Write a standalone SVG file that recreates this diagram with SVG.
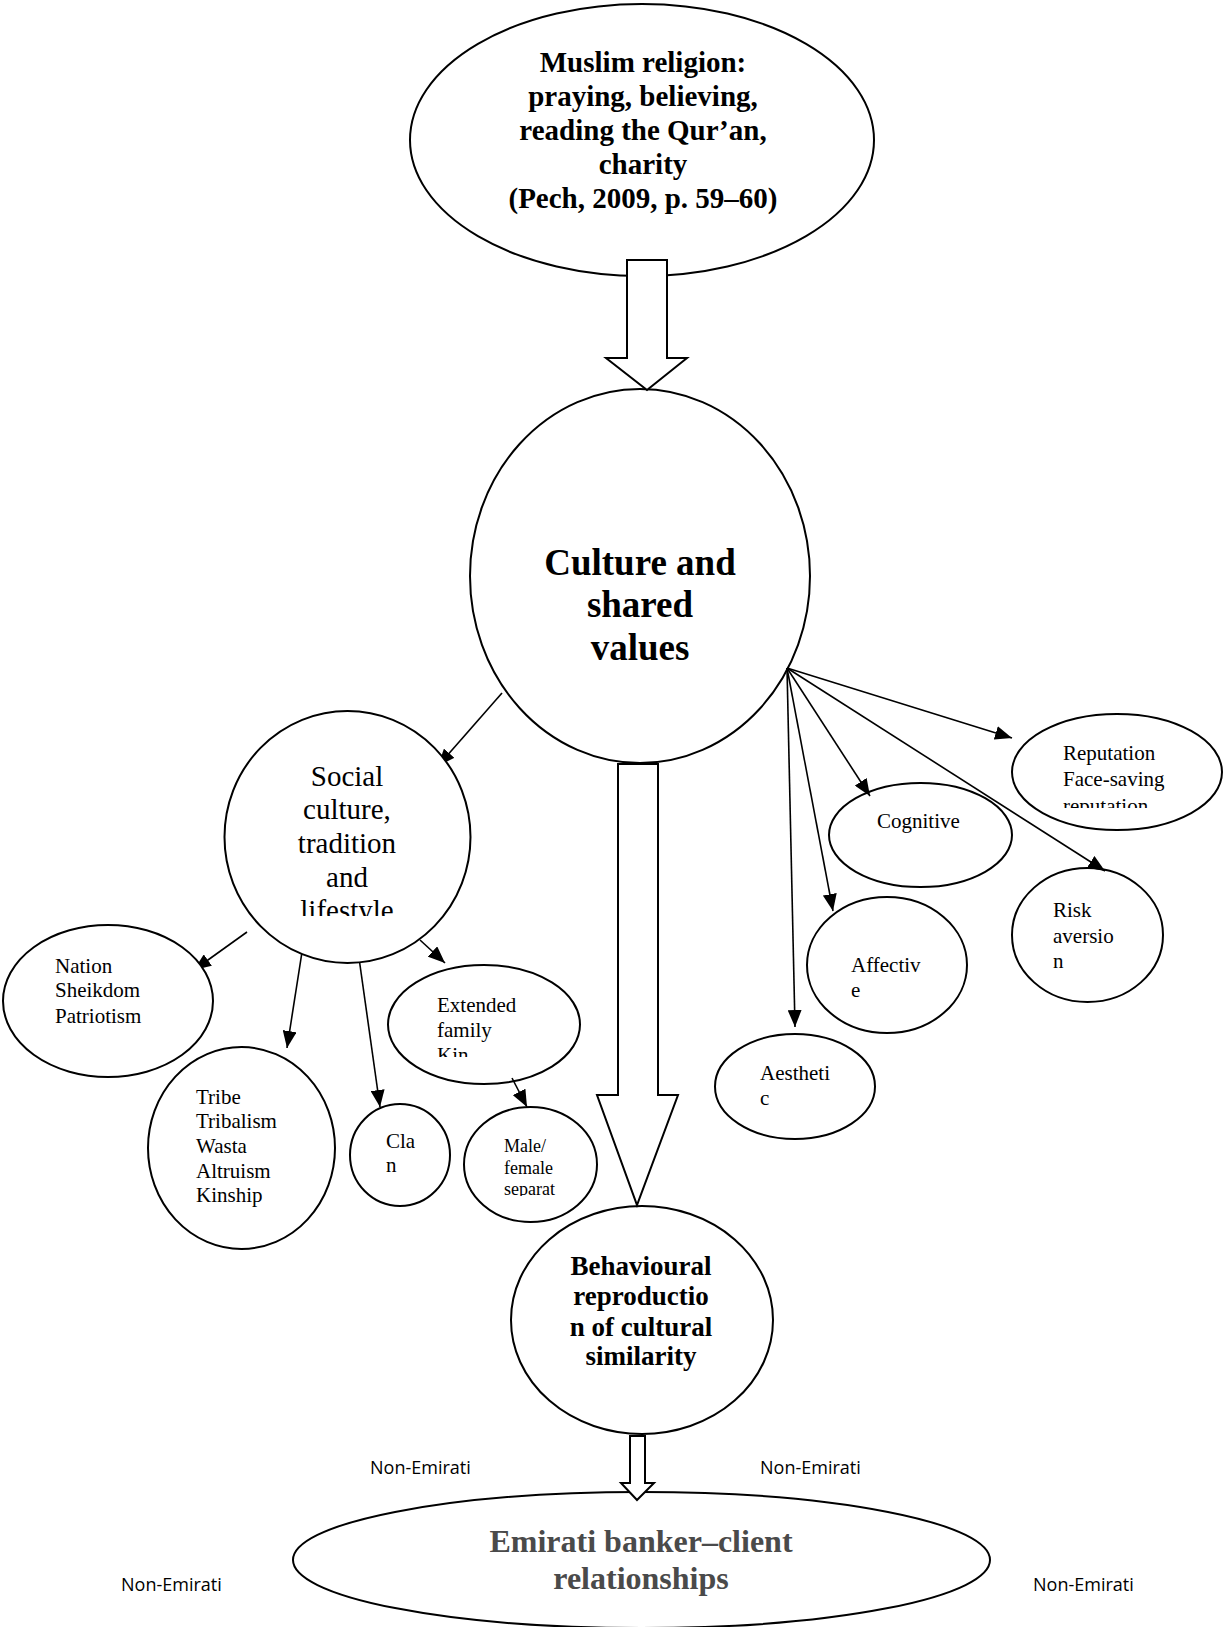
<svg xmlns="http://www.w3.org/2000/svg" width="1224" height="1627" viewBox="0 0 1224 1627">
<style>
.node{fill:#fff;stroke:#000;stroke-width:2}
.blk{fill:#fff;stroke:#000;stroke-width:2;stroke-linejoin:miter}
.conn{stroke:#000;stroke-width:1.6;fill:none;marker-end:url(#ah)}
.b{font-family:"Liberation Serif","Times New Roman",serif;font-weight:bold;fill:#000;text-anchor:middle}
.r{font-family:"Liberation Serif","Times New Roman",serif;fill:#000}
.rc{font-family:"Liberation Serif","Times New Roman",serif;fill:#000;text-anchor:middle}
.s{font-family:"Open Sans","Noto Sans","Liberation Sans",sans-serif;font-size:18px;fill:#000}
</style>
<defs>
<marker id="ah" markerUnits="userSpaceOnUse" markerWidth="18" markerHeight="14" refX="17" refY="7" orient="auto">
<path d="M0,0 L17,7 L0,14 z" fill="#000"/>
</marker>
<clipPath id="cSocial"><rect x="200" y="700" width="300" height="216"/></clipPath>
<clipPath id="cRep"><rect x="1000" y="700" width="224" height="108"/></clipPath>
<clipPath id="cExt"><rect x="380" y="960" width="210" height="97"/></clipPath>
<clipPath id="cMale"><rect x="460" y="1100" width="140" height="96"/></clipPath>
</defs>

<g id="node-muslim">
<ellipse class="node" cx="642" cy="140" rx="232" ry="136"/>
<text class="b" font-size="29" x="643" y="72">Muslim religion:</text>
<text class="b" font-size="29" x="643" y="106">praying, believing,</text>
<text class="b" font-size="29" x="643" y="140">reading the Qur’an,</text>
<text class="b" font-size="29" x="643" y="174">charity</text>
<text class="b" font-size="29" x="643" y="208">(Pech, 2009, p. 59–60)</text>
</g>

<g id="node-culture">
<ellipse class="node" cx="640" cy="576" rx="170" ry="187"/>
<text class="b" font-size="37" x="640" y="575">Culture and</text>
<text class="b" font-size="37" x="640" y="617">shared</text>
<text class="b" font-size="37" x="640" y="660">values</text>
</g>

<g id="node-tribe">
<ellipse class="node" cx="241.5" cy="1148" rx="93.5" ry="101"/>
<text class="r" font-size="21" x="196" y="1104">Tribe</text>
<text class="r" font-size="21" x="196" y="1128">Tribalism</text>
<text class="r" font-size="21" x="196" y="1153">Wasta</text>
<text class="r" font-size="21" x="196" y="1178">Altruism</text>
<text class="r" font-size="21" x="196" y="1202">Kinship</text>
</g>

<g id="node-clan">
<ellipse class="node" cx="400" cy="1155" rx="50" ry="51"/>
<text class="r" font-size="21" x="386" y="1148">Cla</text>
<text class="r" font-size="21" x="386" y="1172">n</text>
</g>

<g id="node-extended">
<ellipse class="node" cx="484" cy="1024.5" rx="96" ry="59.5"/>
<g clip-path="url(#cExt)">
<text class="r" font-size="21" x="437" y="1012">Extended</text>
<text class="r" font-size="21" x="437" y="1037">family</text>
<text class="r" font-size="21" x="437" y="1062">Kin</text>
</g>
</g>

<g id="node-male">
<ellipse class="node" cx="530.5" cy="1164.5" rx="66.5" ry="57.5"/>
<g clip-path="url(#cMale)">
<text class="r" font-size="18" x="504" y="1152">Male/</text>
<text class="r" font-size="18" x="504" y="1173.5">female</text>
<text class="r" font-size="18" x="504" y="1195">separat</text>
</g>
</g>

<g id="node-reputation">
<ellipse class="node" cx="1117" cy="772" rx="105" ry="58"/>
<g clip-path="url(#cRep)">
<text class="r" font-size="21" x="1063" y="760">Reputation</text>
<text class="r" font-size="21" x="1063" y="786">Face-saving</text>
<text class="r" font-size="21" x="1063" y="813">reputation</text>
</g>
</g>

<g id="node-cognitive">
<ellipse class="node" cx="920.5" cy="835" rx="91.5" ry="52"/>
<text class="r" font-size="21" x="877" y="828">Cognitive</text>
</g>

<g id="node-risk">
<ellipse class="node" cx="1087.5" cy="935" rx="75.5" ry="67"/>
<text class="r" font-size="21" x="1053" y="917">Risk</text>
<text class="r" font-size="21" x="1053" y="943">aversio</text>
<text class="r" font-size="21" x="1053" y="968">n</text>
</g>

<g id="node-affective">
<ellipse class="node" cx="887" cy="965" rx="80" ry="68"/>
<text class="r" font-size="21" x="851" y="972">Affectiv</text>
<text class="r" font-size="21" x="851" y="997">e</text>
</g>

<g id="node-aesthetic">
<ellipse class="node" cx="795" cy="1086.5" rx="80" ry="52.5"/>
<text class="r" font-size="21" x="760" y="1080">Aestheti</text>
<text class="r" font-size="21" x="760" y="1105">c</text>
</g>

<g id="node-behavioural">
<ellipse class="node" cx="642" cy="1320" rx="131" ry="114"/>
<text class="b" font-size="27" x="641" y="1275">Behavioural</text>
<text class="b" font-size="27" x="641" y="1305">reproductio</text>
<text class="b" font-size="27" x="641" y="1336">n of cultural</text>
<text class="b" font-size="27" x="641" y="1365">similarity</text>
</g>

<g id="node-emirati">
<ellipse class="node" cx="641.5" cy="1560" rx="348.5" ry="68"/>
<text class="b" font-size="32" x="641" y="1552" style="fill:#4a4a4a">Emirati banker–client</text>
<text class="b" font-size="32" x="641" y="1589" style="fill:#4a4a4a">relationships</text>
</g>

<g id="connectors">
<polygon class="blk" points="627,260 667,260 667,358 687,358 647,390 606,358 627,358"/>
<polygon class="blk" points="618,764 658,764 658,1095 678,1095 637,1205 597,1095 618,1095"/>
<polygon class="blk" points="630,1436 645,1436 645,1483 654,1483 637,1500 621,1483 630,1483"/>
<line class="conn" x1="502" y1="693" x2="438" y2="766"/>
<line class="conn" x1="247" y1="932" x2="194" y2="970"/>
<line class="conn" x1="302" y1="952" x2="287" y2="1048"/>
<line class="conn" x1="359" y1="958" x2="380" y2="1107"/>
<line class="conn" x1="420" y1="940" x2="445" y2="963"/>
<line class="conn" x1="512" y1="1078" x2="527" y2="1107"/>
<line class="conn" x1="787" y1="668" x2="1012" y2="738"/>
<line class="conn" x1="787" y1="668" x2="870" y2="796"/>
<line class="conn" x1="787" y1="668" x2="1105" y2="871"/>
<line class="conn" x1="787" y1="668" x2="833" y2="911"/>
<line class="conn" x1="787" y1="668" x2="795" y2="1027"/>
</g>

<g id="node-social">
<ellipse class="node" cx="347.5" cy="837" rx="123" ry="126"/>
<g clip-path="url(#cSocial)">
<text class="rc" font-size="29" x="347" y="786">Social</text>
<text class="rc" font-size="29" x="347" y="819">culture,</text>
<text class="rc" font-size="29" x="347" y="853">tradition</text>
<text class="rc" font-size="29" x="347" y="887">and</text>
<text class="rc" font-size="29" x="347" y="920">lifestyle</text>
</g>
</g>

<g id="node-nation">
<ellipse class="node" cx="108" cy="1001" rx="105" ry="76"/>
<text class="r" font-size="21" x="55" y="973">Nation</text>
<text class="r" font-size="21" x="55" y="997">Sheikdom</text>
<text class="r" font-size="21" x="55" y="1023">Patriotism</text>
</g>

<g id="labels">
<text class="s" x="370" y="1474">Non-Emirati</text>
<text class="s" x="760" y="1474">Non-Emirati</text>
<text class="s" x="121" y="1591">Non-Emirati</text>
<text class="s" x="1033" y="1591">Non-Emirati</text>
</g>
</svg>
